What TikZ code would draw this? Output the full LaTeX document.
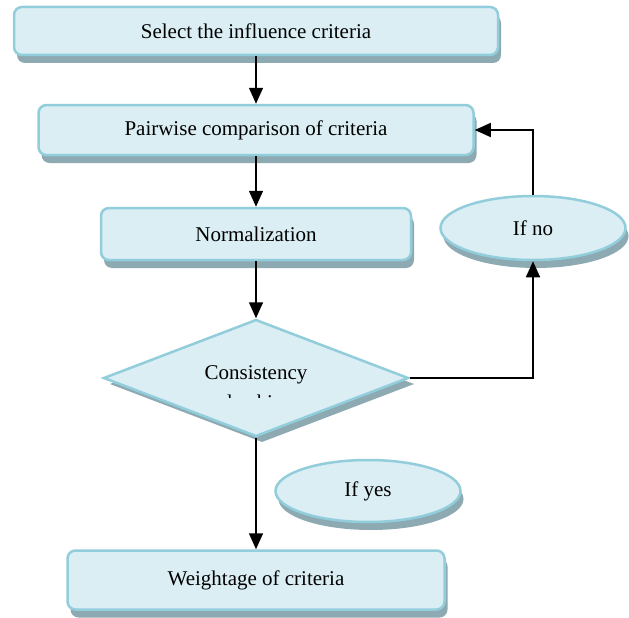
\documentclass[tikz,border=0pt]{standalone}
\usepackage{fontspec}
\setmainfont{Liberation Serif}
\usetikzlibrary{shapes.geometric,shadows,arrows.meta}
\definecolor{boxfill}{HTML}{DAEEF3}
\definecolor{boxline}{HTML}{92CDDC}
\definecolor{boxshade}{HTML}{8DA9B2}
\tikzset{
  boxshadow/.style={drop shadow={shadow xshift=3pt,shadow yshift=-8pt,fill=boxshade,opacity=1}},
  txt/.style={font=\fontsize{21}{25}\selectfont,inner sep=0pt},
  box/.style={rectangle,rounded corners=8pt,draw=boxline,fill=boxfill,line width=2.5pt,boxshadow,txt},
  oval/.style={ellipse,draw=boxline,fill=boxfill,line width=2.5pt,boxshadow,txt},
  decision/.style={diamond,draw=boxline,fill=boxfill,line width=2.5pt,txt,
    drop shadow={shadow xshift=6pt,shadow yshift=-6pt,fill=boxshade,opacity=1}},
  arr/.style={line width=1.5pt,-{Triangle[length=16pt,width=14pt]}}
}

\begin{document}
\begin{tikzpicture}[x=1pt,y=-1pt]
    \useasboundingbox (0,0) rectangle (629,618);
    % main steps
    \node[box,minimum width=484pt,minimum height=48pt] (sel) at (256,31) {Select the influence criteria};
    \node[box,minimum width=435pt,minimum height=50pt] (pair) at (256,130) {Pairwise comparison of criteria};
    \node[box,minimum width=310pt,minimum height=52pt] (norm) at (256,234) {Normalization};
    \node[decision,minimum width=305pt,minimum height=117pt] (test) at (256,378) {};
    \node[txt,anchor=base] (cons) at (256,379) {Consistency};
    \begin{scope}
        \clip (150,350) rectangle (360,397);
        \node[txt,anchor=base] (chk) at (256,409) {checking};
    \end{scope}
    \node[box,minimum width=377pt,minimum height=59pt] (wt) at (256,580) {Weightage of criteria};
    % answers
    \node[oval,minimum width=185pt,minimum height=64pt] (no) at (533,228) {If no};
    \node[oval,minimum width=185pt,minimum height=62pt] (yes) at (368,491) {If yes};
    % arrows
    \draw[arr] (sel) -- (pair);
    \draw[arr] (pair) -- (norm);
    \draw[arr] (norm) -- (test);
    \draw[arr] (test) -- (wt);
    \draw[arr] (test.east) -| (no);
    \draw[arr] (no) |- (pair);
\end{tikzpicture}
\end{document}
